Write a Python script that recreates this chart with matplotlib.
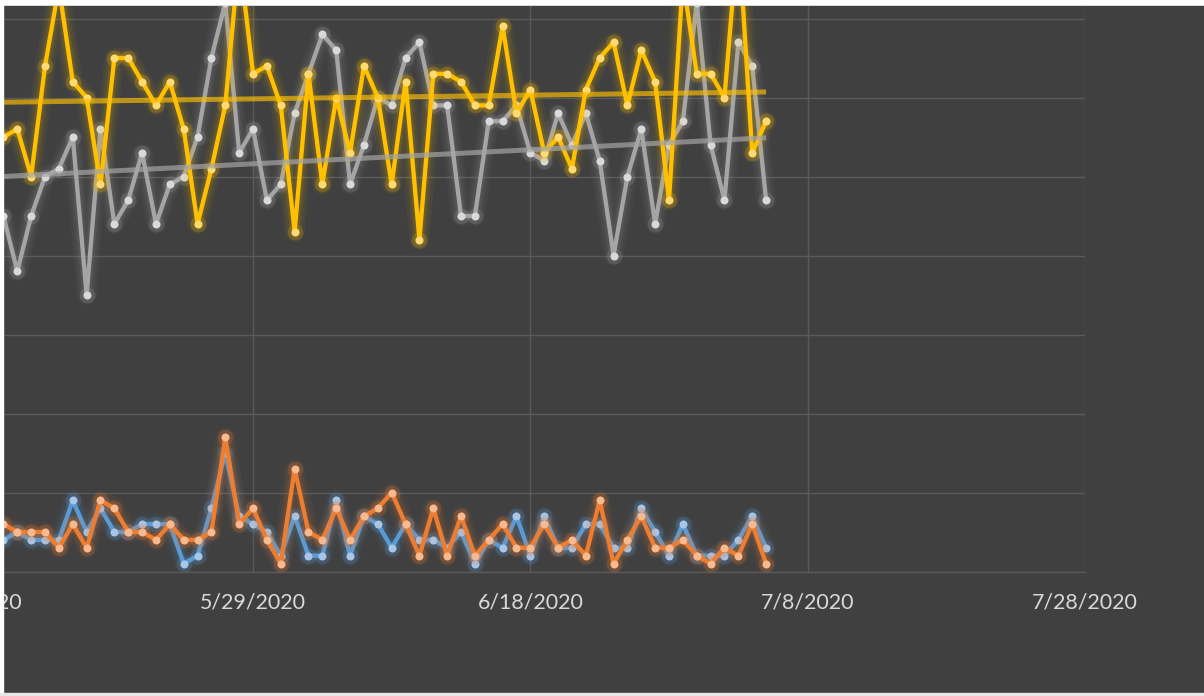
import numpy as np
import pandas as pd
import matplotlib
matplotlib.use("Agg")
import matplotlib.pyplot as plt
import matplotlib.dates as mdates
from matplotlib.patches import Rectangle

# ── DATA (daily values) ────────────────────────────────────
dates = pd.date_range("2020-05-11", periods=56, freq="D")

yellow = [55, 56, 50, 64, 74, 62, 60, 49, 65, 65,
          62, 59, 62, 56, 44, 51, 59, 78, 63, 64,
          59, 43, 63, 49, 60, 53, 64, 60, 49, 62,
          42, 63, 63, 62, 59, 59, 69, 58, 61, 53,
          55, 51, 61, 65, 67, 59, 66, 62, 47, 75,
          63, 63, 60, 81, 53, 57]

gray = [45, 38, 45, 50, 51, 55, 35, 56, 44, 47,
        53, 44, 49, 50, 55, 65, 72, 53, 56, 47,
        49, 58, 63, 68, 66, 49, 54, 60, 59, 65,
        67, 59, 59, 45, 45, 57, 57, 59, 53, 52,
        58, 54, 58, 52, 40, 50, 56, 44, 54, 57,
        72, 54, 47, 67, 64, 47]

blue = [4, 5, 4, 4, 4, 9, 5, 8, 5, 5,
        6, 6, 6, 1, 2, 8, 15, 7, 6, 5,
        2, 7, 2, 2, 9, 2, 7, 6, 3, 6,
        4, 4, 3, 5, 1, 4, 3, 7, 2, 7,
        3, 3, 6, 6, 3, 3, 8, 5, 2, 6,
        2, 2, 2, 4, 7, 3]

orange = [6, 5, 5, 5, 3, 6, 3, 9, 8, 5,
          5, 4, 6, 4, 4, 5, 17, 6, 8, 4,
          1, 13, 5, 4, 8, 4, 7, 8, 10, 6,
          2, 8, 2, 7, 2, 4, 6, 3, 3, 6,
          3, 4, 2, 9, 1, 4, 7, 3, 3, 4,
          2, 1, 3, 2, 6, 1]

# linear trendlines (start / end values as seen on the chart)
trend_dates = pd.to_datetime(["2020-05-11", "2020-07-05"])
yellow_trend = [59.4, 60.7]
gray_trend = [50.0, 54.9]

tick_dates = pd.to_datetime(["2020-05-09", "2020-05-29", "2020-06-18",
                             "2020-07-08", "2020-07-28"])
tick_labels = ["5/9/2020", "5/29/2020", "6/18/2020", "7/8/2020", "7/28/2020"]

# ── STYLE ──────────────────────────────────────────────────
plt.rcParams["font.family"] = ["Lato", "DejaVu Sans"]
W, H = 1204, 696
BG = "#404040"
GRID = "#5a5a5a"
PX = 0.72  # points per pixel at dpi 100

fig = plt.figure(figsize=(W / 100, H / 100), dpi=100, facecolor="white")
fig.add_artist(Rectangle((3 / W, 3 / H), (W - 3) / W, (690 - 3) / H,
                         transform=fig.transFigure, color=BG, zorder=-10))

# axes run from 5/9 (off the left edge) to 7/28
x0, x1 = -24.3, 1085
ax = fig.add_axes([x0 / W, (H - 571.5) / H, (x1 - x0) / W, (571.5 - 6) / H])
ax.set_facecolor(BG)


def glow_series(x, y, line_c, marker_c, z):
    # soft glow: wide translucent strokes under the line and markers
    for w, a in [(20, 0.05), (14, 0.07), (9, 0.11)]:
        ax.plot(x, y, color=line_c, lw=w * PX, alpha=a,
                solid_joinstyle="round", solid_capstyle="round", zorder=z)
    ax.plot(x, y, ls="none", marker="o", ms=16 * PX, color=line_c,
            alpha=0.2, mec="none", zorder=z)
    ax.plot(x, y, color=line_c, lw=4.3 * PX, solid_joinstyle="round",
            marker="o", ms=8 * PX, mfc=marker_c, mec=marker_c, mew=0,
            zorder=z + 0.5)


glow_series(dates, blue, "#5B9BD5", "#A9C6E8", 2)
glow_series(dates, orange, "#ED7D31", "#F8B98E", 3)
glow_series(dates, gray, "#A5A5A5", "#D9D9D9", 4)
glow_series(dates, yellow, "#FFC000", "#FFDA70", 5)

ax.plot(trend_dates, gray_trend, color="#A5A5A5", alpha=0.7, lw=5 * PX,
        solid_capstyle="butt", zorder=6)
ax.plot(trend_dates, yellow_trend, color="#FFC000", alpha=0.65, lw=5 * PX,
        solid_capstyle="butt", zorder=6)

# ── AXES ───────────────────────────────────────────────────
ax.set_xlim(mdates.date2num(tick_dates[0]), mdates.date2num(tick_dates[-1]))
ax.set_ylim(0, (571.5 - 6) / 7.9)
ax.set_xticks(mdates.date2num(tick_dates))
ax.set_xticklabels(tick_labels)
ax.set_yticks(np.arange(0, 71, 10))
ax.set_yticklabels([])
ax.tick_params(axis="both", length=0)
ax.tick_params(axis="x", pad=15, labelsize=15.4, labelcolor="#D9D9D9")
ax.grid(True, color=GRID, lw=1.0)
ax.set_axisbelow(True)
for side in ["left", "right", "top"]:
    ax.spines[side].set_visible(False)
ax.spines["bottom"].set_color(GRID)
ax.spines["bottom"].set_linewidth(1.0)

# thin light borders of the screenshot
fig.add_artist(Rectangle((0, 0), 3 / W, 1, transform=fig.transFigure,
                         color="white", zorder=10))
fig.add_artist(Rectangle((0, 0), 1, 3 / H, transform=fig.transFigure,
                         color="#E6E6E6", zorder=10))

fig.savefig("out.png", dpi=100, facecolor="white")
